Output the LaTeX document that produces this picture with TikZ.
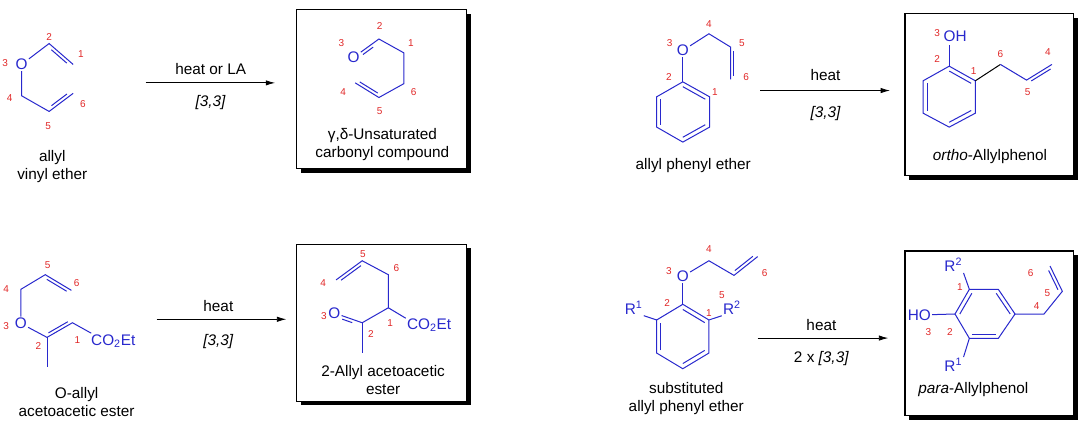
\documentclass[tikz,border=0pt]{standalone}
\usepackage{fontspec}
\setmainfont{Liberation Sans}
\usetikzlibrary{calc,arrows.meta}
\definecolor{bl}{RGB}{40,40,205}
\definecolor{rd}{RGB}{225,40,40}
\newcommand\atomf{\fontsize{11.5}{12}\selectfont}
\newcommand\numf{\fontsize{7.5}{8}\selectfont}
\newcommand\txtf{\fontsize{11.5}{13.5}\selectfont}
\newcommand\dbo[4]{\draw[bond] ($(#1)!#4!(#2)!2.4pt!#3:(#2)$) -- ($(#1)!1-#4!(#2)!2.4pt!#3:(#2)$);}
\newcommand\rdb[3]{\draw[bond] ($(#1)!0.16!(#3)$) -- ($(#2)!0.16!(#3)$);}
\tikzset{
  bond/.style={draw=bl, line width=0.75pt},
  atom/.style={text=bl, font=\atomf, inner sep=0.8pt},
  num/.style={text=rd, font=\numf, inner sep=0pt},
  lbl/.style={font=\txtf, inner sep=0pt, align=center},
  arr/.style={line width=0.6pt, -{Latex[length=7pt,width=4pt]}},
  pbox/.style={line width=0.8pt, fill=white},
}
\newcommand\shbox[4]{\fill[black] ([shift={(3.2pt,-3.2pt)}]#1,#2) rectangle ([shift={(3.2pt,-3.2pt)}]#3,#4);
  \draw[pbox] (#1,#2) rectangle (#3,#4);}
\begin{document}
\begin{tikzpicture}
\useasboundingbox (0,0) rectangle (810pt,-318pt);
% ---------- panel 1
\begin{scope}[x=0.2612pt,y=-0.2612pt]
\node[atom] (o1) at (62,185) {O};
\coordinate (a2) at (141,125); \coordinate (a1) at (210,185);
\coordinate (a4) at (62,275); \coordinate (a5) at (141,320); \coordinate (a6) at (210,268);
\draw[bond] (o1) -- (a2) -- (a1);
\dbo{a2}{a1}{-90}{0.18}
\draw[bond] (o1) -- (a4) -- (a5) -- (a6);
\dbo{a5}{a6}{90}{0.18}
\node[num] (n12) at (141,105) {2}; \node[num] (n11) at (232,155) {1};
\node[num] (n13) at (15,180) {3}; \node[num] (n14) at (28,283) {4};
\node[num] (n16) at (238,300) {6}; \node[num] (n15) at (138,362) {5};
\node[lbl] (t1) at (150,478) {allyl\\vinyl ether};
\draw[arr] (418,238) coordinate (s1c) -- (790,238) coordinate (e1c);
\node[lbl] (h1) at (605,197) {heat or LA};
\node[lbl] (k1) at (605,295) {\textit{[3,3]}};
\shbox{852}{28}{1340}{485}
\node[atom] (o1p) at (1015,165) {O};
\coordinate (b2) at (1088,112); \coordinate (b1) at (1160,152);
\coordinate (b6) at (1160,240); \coordinate (b5) at (1088,280); \coordinate (b4) at (1020,238);
\draw[bond] (o1p) -- (b2) -- (b1) -- (b6) -- (b5) -- (b4);
\dbo{o1p}{b2}{-90}{0.3}
\dbo{b4}{b5}{90}{0.12}
\node[num] at (1090,75) {2}; \node[num] at (1180,125) {1};
\node[num] at (980,125) {3}; \node[num] at (1188,265) {6};
\node[num] at (985,265) {4}; \node[num] at (1090,318) {5};
\node[lbl] (t1p) at (1098,415) {γ,δ-Unsaturated\\carbonyl compound};
\end{scope}
% ---------- panel 2
\begin{scope}[shift={(405pt,0pt)},x=0.2612pt,y=-0.2612pt]
\node[atom] (o2) at (410,145) {O};
\coordinate (c4) at (485,97); \coordinate (c5) at (547,135); \coordinate (c6) at (547,228);
\coordinate (c2) at (410,235); \coordinate (r1) at (487,278); \coordinate (r2) at (487,365);
\coordinate (r3) at (410,408); \coordinate (r4) at (335,365); \coordinate (r5) at (335,278);
\coordinate (cc) at (410,321.5);
\draw[bond] (o2) -- (c4) -- (c5) -- (c6);
\dbo{c5}{c6}{90}{0.12}
\draw[bond] (o2) -- (c2);
\draw[bond] (c2) -- (r1) -- (r2) -- (r3) -- (r4) -- (r5) -- cycle;
\rdb{c2}{r1}{cc} \rdb{r2}{r3}{cc} \rdb{r4}{r5}{cc}
\node[num] at (485,70) {4}; \node[num] at (372,125) {3};
\node[num] at (580,125) {5}; \node[num] at (370,220) {2};
\node[num] at (502,265) {1}; \node[num] at (592,220) {6};
\node[lbl] (t2) at (440,475) {allyl phenyl ether};
\draw[arr] (633,260) coordinate (s2) -- (1005,260) coordinate (e2);
\node[lbl] (h2) at (820,215) {heat};
\node[lbl] (k2) at (820,325) {\textit{[3,3]}};
\shbox{1048}{40}{1532}{505}
\node[atom] (oh2) at (1192,103) {OH};
\coordinate (d2) at (1175,190); \coordinate (d1) at (1250,232); \coordinate (d3) at (1250,325);
\coordinate (d4) at (1175,365); \coordinate (d5) at (1100,325); \coordinate (d6) at (1100,232);
\coordinate (dc) at (1175,277.5); \coordinate (dob) at (1175,128);
\draw[bond] (d2) -- (d1) -- (d3) -- (d4) -- (d5) -- (d6) -- cycle;
\draw[bond] (d2) -- (dob);
\rdb{d2}{d1}{dc} \rdb{d3}{d4}{dc} \rdb{d5}{d6}{dc}
\coordinate (e6) at (1322,185); \coordinate (e5) at (1397,230); \coordinate (e4) at (1470,185);
\draw[line width=0.75pt] (d1) -- (e6);
\draw[bond] (e6) -- (e5) -- (e4);
\dbo{e5}{e4}{-90}{0.12}
\node[num] at (1140,95) {3}; \node[num] at (1140,170) {2};
\node[num] at (1245,205) {1}; \node[num] at (1322,155) {6};
\node[num] at (1458,150) {4}; \node[num] at (1400,265) {5};
\node[lbl] (t2p) at (1292,450) {\textit{ortho}-Allylphenol};
\end{scope}
% ---------- panel 3
\begin{scope}[shift={(0pt,-159pt)},x=0.2612pt,y=-0.2612pt]
\coordinate (f5) at (130,180); \coordinate (f4) at (60,222); \coordinate (f6) at (205,225);
\node[atom] (o3) at (60,320) {O};
\coordinate (f2) at (135,360); \coordinate (f1) at (208,318); \coordinate (fm) at (135,445);
\node[atom,anchor=west] (co3) at (258,370) {CO\textsubscript{2}Et};
\coordinate (fe) at (262,348);
\draw[bond] (f6) -- (f5) -- (f4) -- (o3) -- (f2) -- (f1) -- (fe);
\draw[bond] (f2) -- (fm);
\dbo{f5}{f6}{-90}{0.12}
\dbo{f2}{f1}{90}{0.12}
\node[num] at (137,152) {5}; \node[num] at (18,222) {4};
\node[num] at (220,205) {6}; \node[num] at (18,328) {3};
\node[num] at (110,385) {2}; \node[num] at (222,368) {1};
\node[lbl] (t3) at (220,545) {O-allyl\\acetoacetic ester};
\draw[arr] (450,308) coordinate (s3) -- (822,308) coordinate (e3);
\node[lbl] (h3) at (627,270) {heat};
\node[lbl] (k3) at (627,372) {\textit{[3,3]}};
\shbox{852}{92}{1340}{543}
\coordinate (g5) at (1040,140); \coordinate (g4) at (965,195); \coordinate (g6) at (1115,180);
\coordinate (g1) at (1115,275); \coordinate (g2) at (1040,318);
\node[atom] (o3p) at (960,290) {O};
\coordinate (gm) at (1040,405); \coordinate (ge) at (1165,305);
\node[atom,anchor=west] (co3p) at (1165,325) {CO\textsubscript{2}Et};
\draw[bond] (g4) -- (g5) -- (g6) -- (g1) -- (g2) -- (o3p);
\draw[bond] (g2) -- (gm); \draw[bond] (g1) -- (ge);
\dbo{g4}{g5}{-90}{0.12}
\dbo{o3p}{g2}{-90}{0.32}
\node[num] at (1042,120) {5}; \node[num] at (1138,162) {6};
\node[num] at (928,203) {4}; \node[num] at (930,298) {3};
\node[num] at (1120,320) {1}; \node[num] at (1065,350) {2};
\node[lbl] (t3p) at (1100,482) {2-Allyl acetoacetic\\ester};
\end{scope}
% ---------- panel 4
\begin{scope}[shift={(405pt,-159pt)},x=0.2612pt,y=-0.2612pt]
\node[atom] (o4) at (410,185) {O};
\coordinate (h4) at (485,140); \coordinate (h5) at (557,182); \coordinate (h6) at (625,128);
\coordinate (q2) at (410,265); \coordinate (q1) at (485,310); \coordinate (q3) at (485,405);
\coordinate (q4) at (410,450); \coordinate (q5) at (335,405); \coordinate (q6) at (335,310);
\coordinate (qc) at (410,357.5);
\draw[bond] (o4) -- (h4) -- (h5) -- (h6);
\dbo{h5}{h6}{90}{0.12}
\draw[bond] (o4) -- (q2);
\draw[bond] (q2) -- (q1) -- (q3) -- (q4) -- (q5) -- (q6) -- cycle;
\rdb{q2}{q1}{qc} \rdb{q3}{q4}{qc} \rdb{q5}{q6}{qc}
\node[atom,anchor=west] (r2n) at (522,275) {R\textsuperscript{2}};
\node[atom,anchor=east] (r1n) at (298,275) {R\textsuperscript{1}};
\draw[bond] (q1) -- (r2n.south west);
\draw[bond] (q6) -- (r1n.south east);
\node[num] at (485,105) {4}; \node[num] at (370,170) {3};
\node[num] at (522,240) {5}; \node[num] at (645,175) {6};
\node[num] at (365,262) {2}; \node[num] at (485,290) {1};
\node[lbl] (t4) at (420,537) {substituted\\allyl phenyl ether};
\draw[arr] (625,362) coordinate (s4) -- (1000,362) coordinate (e4a);
\node[lbl] (h4t) at (808,325) {heat};
\node[lbl] (k4) at (808,422) {2 x \textit{[3,3]}};
\shbox{1048}{112}{1532}{585}
\end{scope}
\begin{scope}[shift={(667.5pt,-187.5pt)},x=0.25pt,y=-0.25pt]
\coordinate (p1) at (238,118); \coordinate (p2) at (325,118); \coordinate (p3) at (375,192);
\coordinate (p4) at (325,265); \coordinate (p5) at (238,265); \coordinate (p6) at (195,192);
\coordinate (pc) at (285,192);
\draw[bond] (p1) -- (p2) -- (p3) -- (p4) -- (p5) -- (p6) -- cycle;
\rdb{p6}{p1}{pc} \rdb{p2}{p3}{pc} \rdb{p5}{p4}{pc}
\node[atom] (ho) at (88,195) {HO};
\draw[bond] (p6) -- (ho);
\node[atom] (r2p) at (190,45) {R\textsuperscript{2}};
\node[atom] (r1p) at (190,345) {R\textsuperscript{1}};
\draw[bond] (p1) -- (r2p.south east);
\draw[bond] (p5) -- (r1p.north east);
\coordinate (k4c) at (462,192); \coordinate (k5c) at (517,124); \coordinate (k6c) at (480,48);
\draw[bond] (p3) -- (k4c) -- (k5c) -- (k6c);
\dbo{k5c}{k6c}{90}{0.12}
\node[num] at (422,68) {6}; \node[num] at (472,128) {5};
\node[num] at (440,168) {4}; \node[num] at (210,112) {1};
\node[num] at (115,245) {3}; \node[num] at (180,245) {2};
\node[lbl] (t4p) at (250,418) {\textit{para}-Allylphenol};
\end{scope}
\end{tikzpicture}
\end{document}
